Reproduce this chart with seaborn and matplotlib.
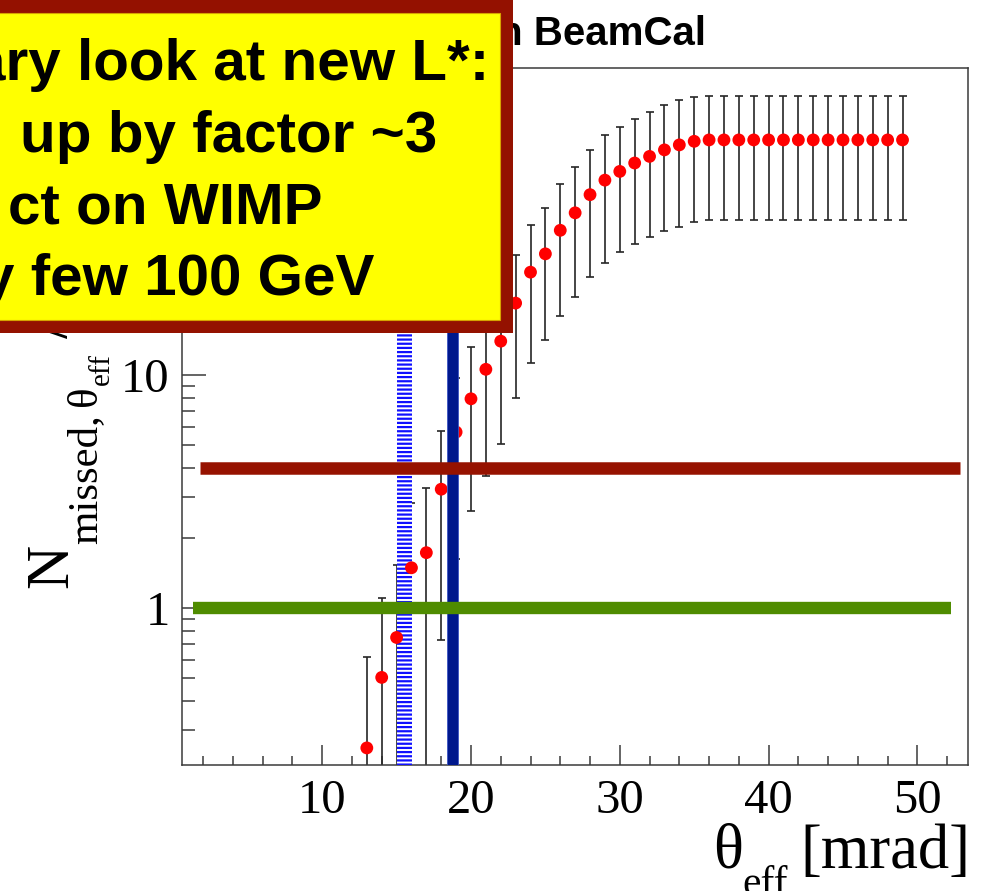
import matplotlib
matplotlib.use("Agg")
import matplotlib.pyplot as plt
import pandas as pd
import seaborn as sns
from matplotlib.patches import Rectangle
from matplotlib.ticker import FixedLocator, FixedFormatter, MultipleLocator, LogLocator, NullFormatter

# Missed-event count per effective polar angle bin (mrad)
theta_eff = [13, 14, 15, 16, 17, 18, 19, 20, 21, 22, 23, 24, 25,
             26, 27, 28, 29, 30, 31, 32, 33, 34, 35,
             36, 37, 38, 39, 40, 41, 42, 43, 44, 45, 46, 47, 48, 49]
n_missed = [0.251, 0.504, 0.748, 1.49, 1.73, 3.24, 5.70, 7.92, 10.6, 14.0, 20.4, 27.7, 33.2,
            41.9, 49.8, 59.6, 68.8, 75.0, 81.5, 87.0, 92.8, 97.5, 101.0,
            102.4, 102.4, 102.4, 102.4, 102.4, 102.4, 102.4, 102.4, 102.4, 102.4, 102.4, 102.4, 102.4, 102.4]
n_err = [0.365, 0.60, 0.79, 1.35, 1.55, 2.51, 4.07, 5.3, 6.9, 8.95, 12.4, 16.4, 19.0,
         24.0, 28.2, 33.2, 38.4, 41.3, 45.0, 47.8, 51.2, 54.0, 55.5,
         56.0, 56.0, 56.0, 56.0, 56.0, 56.0, 56.0, 56.0, 56.0, 56.0, 56.0, 56.0, 56.0, 56.0]

x_ticks = [10, 20, 30, 40, 50]
x_tick_labels = ["10", "20", "30", "40", "50"]
y_ticks = [1, 10, 100]
y_tick_labels = ["1", "10", ""]

# Reference levels and angular acceptance markers
level_one = 1.0
level_four = 4.0
level_one_span = [1.3, 52.25]
level_four_span = [1.79, 52.87]
old_edge_band = [15.0, 16.05]
new_edge_band = [18.42, 19.13]

title_text = "n BeamCal"
note_lines = ["ary look at new L*:", "up by factor ~3", "ct on WIMP", "y few 100 GeV"]

# axis title pieces: (text, font size, baseline drop in px)
xlabel_pieces = [("θ", 45, 0), ("eff", 30, 27), ("[mrad]", 45, 0)]
xlabel_gaps = [0, 12]
ylabel_pieces = [("N", 44, 0), ("missed,", 31, 29), ("θ", 31, 29), ("eff", 21, 42), ("/", 44, 0)]
ylabel_gaps = [0, 8, 0, 16]

W, H = 985, 891

sns.set_theme(style="ticks")
plt.rcParams["font.family"] = ["Liberation Serif", "DejaVu Serif"]
plt.rcParams["hatch.linewidth"] = 1.6

fig = plt.figure(figsize=(W / 100, H / 100), dpi=100)
fig.patch.set_facecolor("white")
ax = fig.add_axes([182 / W, 1 - 765 / H, (968 - 182) / W, (765 - 68) / H])
ax.set_facecolor("white")

df = pd.DataFrame({"theta": theta_eff, "n": n_missed, "err": n_err})

ax.set_yscale("log", nonpositive="clip")
ax.set_xlim(0.58, 53.4)
ax.set_ylim(0.212, 208.5)

# statistical error bars
ax.errorbar(df["theta"], df["n"], yerr=df["err"], fmt="none", ecolor="#262626",
            elinewidth=1.2, capsize=2.9, capthick=1.2, zorder=2)

# hatched band for the old acceptance edge
ax.axvspan(old_edge_band[0], old_edge_band[1], facecolor="white", edgecolor="#1010ff",
           hatch="----", linewidth=0, zorder=3)

sns.scatterplot(data=df, x="theta", y="n", color="#ff0000", s=85, marker="o",
                edgecolor="none", linewidth=0, zorder=4, ax=ax, legend=False)

# solid line for the new acceptance edge
ax.axvspan(new_edge_band[0], new_edge_band[1], facecolor="#00188c", edgecolor="#3d55c4",
           linewidth=0.6, zorder=5)

ax.plot(level_one_span, [level_one, level_one], color="#4f8c00", lw=8.9,
        solid_capstyle="butt", zorder=6)
ax.plot(level_four_span, [level_four, level_four], color="#961200", lw=9.0,
        solid_capstyle="butt", zorder=6)

# axes styling
for sp in ax.spines.values():
    sp.set_visible(True)
    sp.set_color("#3a3a3a")
    sp.set_linewidth(1.1)

ax.xaxis.set_major_locator(FixedLocator(x_ticks))
ax.xaxis.set_major_formatter(FixedFormatter(x_tick_labels))
ax.xaxis.set_minor_locator(MultipleLocator(2))
ax.yaxis.set_major_locator(FixedLocator(y_ticks))
ax.yaxis.set_major_formatter(FixedFormatter(y_tick_labels))
ax.yaxis.set_minor_locator(LogLocator(base=10, subs=[2, 3, 4, 5, 6, 7, 8, 9], numticks=20))
ax.yaxis.set_minor_formatter(NullFormatter())

ax.tick_params(axis="x", which="major", direction="in", length=14.4, width=1.1,
               color="#3a3a3a", pad=10, labelsize=35, top=False)
ax.tick_params(axis="x", which="minor", direction="in", length=6.8, width=1.1,
               color="#3a3a3a", top=False)
ax.tick_params(axis="y", which="major", direction="in", length=17, width=1.1,
               color="#3a3a3a", pad=9, labelsize=35, right=False)
ax.tick_params(axis="y", which="minor", direction="in", length=9, width=1.1,
               color="#3a3a3a", right=False)
for lab in ax.get_xticklabels() + ax.get_yticklabels():
    lab.set_color("black")
ax.set_xlabel("")
ax.set_ylabel("")

renderer = fig.canvas.get_renderer()


def piece_widths(pieces):
    widths = []
    for txt, size, _ in pieces:
        t = fig.text(0, 0, txt, fontsize=size)
        widths.append(t.get_window_extent(renderer).width)
        t.remove()
    return widths


# x axis title, right-aligned to the frame, with a lowered subscript
xw = piece_widths(xlabel_pieces)
total = sum(xw) + sum(xlabel_gaps)
x_cursor = 970 - total
x_base = 868
for (txt, size, drop), w, gap in zip(xlabel_pieces, xw, xlabel_gaps + [0]):
    fig.text(x_cursor / W, 1 - (x_base + drop) / H, txt, fontsize=size, ha="left",
             va="baseline", color="black", zorder=5)
    x_cursor += w + gap

# y axis title running upward, with lowered subscripts
yw = piece_widths(ylabel_pieces)
y_cursor = 588
y_base = 67
for (txt, size, drop), w, gap in zip(ylabel_pieces, yw, ylabel_gaps + [0]):
    fig.text((y_base + drop) / W, 1 - y_cursor / H, txt, fontsize=size, rotation=90,
             rotation_mode="anchor", ha="left", va="baseline", color="black", zorder=5)
    y_cursor -= w + gap

# plot title
fig.text(706 / W, 1 - 45 / H, title_text, ha="right", va="baseline", fontsize=29,
         fontweight="bold", family=["Liberation Sans", "DejaVu Sans"], color="black", zorder=5)

# annotation box
fig.add_artist(Rectangle((-20 / W, 1 - 333 / H), 533 / W, 353 / H, transform=fig.transFigure,
                         facecolor="#941100", edgecolor="none", zorder=10))
fig.add_artist(Rectangle((-20 / W, 1 - 320 / H), 520 / W, 307 / H, transform=fig.transFigure,
                         facecolor="#ffff00", edgecolor="#d6a300", linewidth=0.8, zorder=10.5))

note_right = [489, 437, 322, 374]
note_base = [80, 152, 223, 295]
for txt, xr, yb in zip(note_lines, note_right, note_base):
    fig.text(xr / W, 1 - yb / H, txt, ha="right", va="baseline", fontsize=42,
             fontweight="bold", family=["Liberation Sans", "DejaVu Sans"], color="black", zorder=11)

fig.savefig("out.png", dpi=100, facecolor="white")
